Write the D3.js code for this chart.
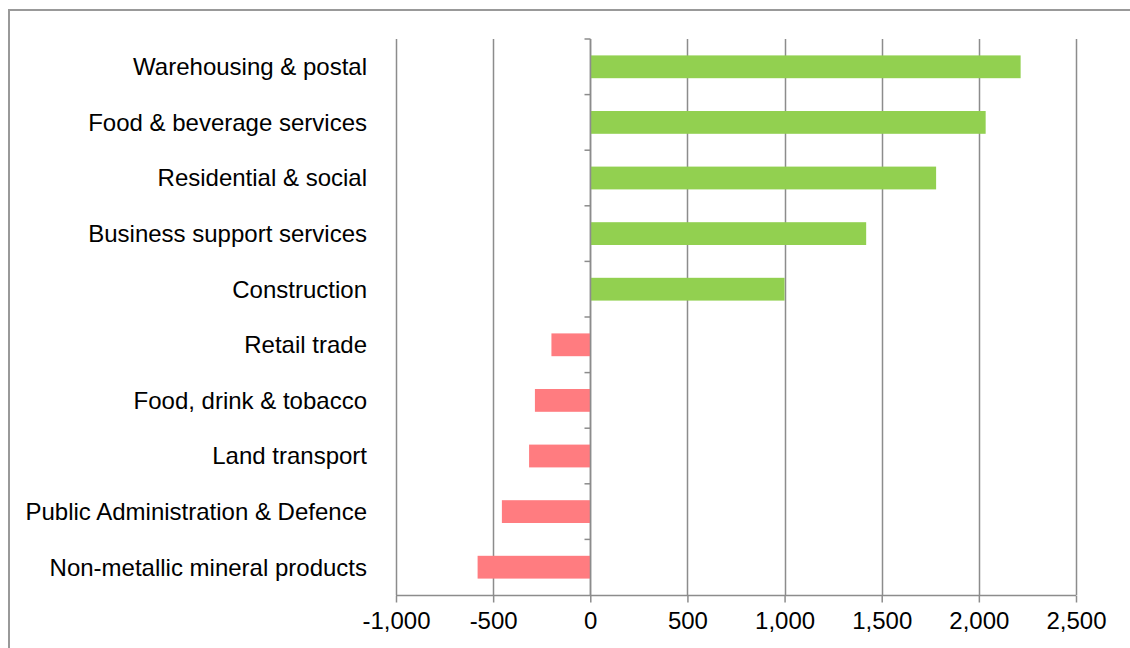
<!DOCTYPE html>
<html>
<head>
<meta charset="utf-8">
<script src="https://cdn.jsdelivr.net/npm/d3@7"></script>
<style>
  body { margin: 0; background: #fff; }
  svg { display: block; font-family: "Liberation Sans", Arial, sans-serif; }
</style>
</head>
<body>
<div id="chart"></div>
<script>
const categories = [
  'Warehousing & postal',
  'Food & beverage services',
  'Residential & social',
  'Business support services',
  'Construction',
  'Retail trade',
  'Food, drink & tobacco',
  'Land transport',
  'Public Administration & Defence',
  'Non-metallic mineral products'
];
const values = [2215, 2035, 1780, 1420, 1000, -200, -285, -315, -455, -580];
const xTicks = [-1000, -500, 0, 500, 1000, 1500, 2000, 2500];

const [w, h] = [1130, 648];
const m = { top: 39, right: 54, bottom: 53, left: 396 };
const grid = '#8c8c8c';

const svg = d3.select('#chart').append('svg')
  .attr('width', w).attr('height', h);

// outer chart border
svg.append('rect')
  .attr('x', 9).attr('y', 10).attr('width', w + 20).attr('height', h + 20)
  .attr('fill', 'none').attr('stroke', '#999').attr('stroke-width', 2);

const x = d3.scaleLinear().domain([-1000, 2500]).range([m.left, w - m.right]);
const y = d3.scaleBand().domain(categories).range([m.top, h - m.bottom]).paddingInner(0.59).paddingOuter(0.295);
const yb = d3.scaleBand().domain(categories).range([m.top, h - m.bottom]);

// vertical gridlines
svg.append('g').selectAll('line')
  .data(xTicks).join('line')
  .attr('x1', d => Math.round(x(d)) + 0.5).attr('x2', d => Math.round(x(d)) + 0.5)
  .attr('y1', m.top).attr('y2', h - m.bottom)
  .attr('stroke', grid).attr('stroke-width', 1.5);

// bars
svg.append('g').selectAll('rect')
  .data(values).join('rect')
  .attr('x', d => x(Math.min(0, d)))
  .attr('width', d => Math.abs(x(d) - x(0)))
  .attr('y', (d, i) => y(categories[i]))
  .attr('height', y.bandwidth())
  .attr('fill', d => d >= 0 ? '#92d050' : '#ff7c80');

// x axis
const fmt = d3.format(',');
const xAxis = d3.axisBottom(x).tickValues(xTicks).tickSize(7).tickFormat(d => fmt(d).replace('\u2212', '-'));
const gx = svg.append('g')
  .attr('transform', `translate(0,${h - m.bottom + 0.5})`)
  .call(xAxis);
gx.select('.domain').attr('stroke', grid).attr('stroke-width', 1.5).attr('d', `M${x(-1000)},0H${x(2500)}`);
gx.selectAll('.tick line').attr('stroke', grid).attr('stroke-width', 1.5);
gx.selectAll('.tick text').attr('font-size', 24).attr('fill', '#000').attr('y', 14).attr('dy', '0.8em');

// y axis at zero
const yAxis = d3.axisLeft(yb).tickSize(0).tickFormat('');
const gy = svg.append('g')
  .attr('transform', `translate(${Math.round(x(0)) + 0.5},0)`)
  .call(yAxis);
gy.select('.domain').attr('stroke', grid).attr('stroke-width', 1.5).attr('d', `M0,${m.top}V${h - m.bottom}`);
gy.append('g').selectAll('line')
  .data(d3.range(categories.length)).join('line')
  .attr('x1', -6).attr('x2', 0)
  .attr('y1', (d, i) => yb(categories[i])).attr('y2', (d, i) => yb(categories[i]))
  .attr('stroke', grid).attr('stroke-width', 1.5);

// category labels
svg.append('g').selectAll('text')
  .data(categories).join('text')
  .attr('x', 367)
  .attr('y', d => yb(d) + yb.bandwidth() / 2)
  .attr('dy', '0.35em')
  .attr('text-anchor', 'end')
  .attr('font-size', 24)
  .attr('fill', '#000')
  .text(d => d);
</script>
</body>
</html>
